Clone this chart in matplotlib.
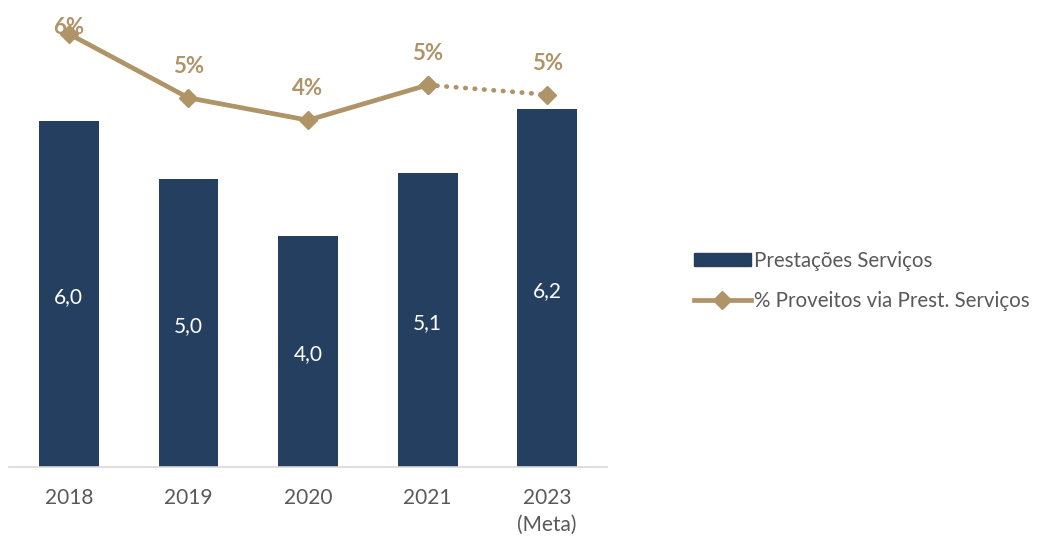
import matplotlib
matplotlib.use("Agg")
import matplotlib.pyplot as plt
from matplotlib.lines import Line2D
from matplotlib.patches import Patch

categories = ["2018", "2019", "2020", "2021", "2023\n(Meta)"]
servicos = [6.0, 5.0, 4.0, 5.1, 6.2]
bar_labels = ["6,0", "5,0", "4,0", "5,1", "6,2"]
pct = [5.8, 4.8, 4.45, 5.0, 4.85]
pct_labels = ["6%", "5%", "4%", "5%", "5%"]

BAR = "#253F61"
GOLD = "#AF9468"
GREY = "#595959"

plt.rcParams['font.family'] = ['Lato', 'DejaVu Sans']

fig = plt.figure(figsize=(10.47, 5.37), dpi=100)
W, H = 1047, 537
ax = fig.add_axes([9 / W, (H - 467) / H, 598 / W, 457 / H])
x = list(range(len(categories)))
ax.bar(x, servicos, width=0.5, color=BAR, zorder=2)
ax.set_xlim(-0.5, len(categories) - 0.5)
ax.set_ylim(0, 457 / 57.7)
for xi, v, lab in zip(x, servicos, bar_labels):
    ax.text(xi, v / 2 - 0.05, lab, ha="center", va="center", color="white", fontsize=15)

for s in ["top", "right", "left"]:
    ax.spines[s].set_visible(False)
ax.spines["bottom"].set_color("#D9D9D9")
ax.spines["bottom"].set_linewidth(1.2)
ax.set_yticks([])
ax.set_xticks(x)
ax.set_xticklabels(categories, fontsize=15, color=GREY, linespacing=1.45)
ax.tick_params(axis="x", length=0, pad=15)

ax2 = ax.twinx()
ax2.set_ylim((405 - 467) / 64, (405 - 10) / 64)
ax2.axis("off")
ax2.plot(x[:4], pct[:4], color=GOLD, lw=3.4, marker="D", ms=9.5, zorder=3,
         solid_joinstyle="miter")
ax2.plot(x[3:], pct[3:], color=GOLD, lw=3.4, linestyle=(0, (0.1, 1.9)),
         dash_capstyle="round", marker="D", ms=9.5, zorder=3)
offsets = [-3, 15, 15, 15, 15]
for xi, v, lab, off in zip(x, pct, pct_labels, offsets):
    ax2.annotate(lab, (xi, v), xytext=(0, off), textcoords="offset points",
                 ha="center", va="bottom", color=GOLD, fontsize=16, fontweight="bold",
                 annotation_clip=False)

handles = [Patch(facecolor=BAR, edgecolor=BAR),
           Line2D([0], [0], color=GOLD, lw=3.4, marker="D", ms=9.5)]
labels = ["Prestações Serviços", "% Proveitos via Prest. Serviços"]
leg = fig.legend(handles, labels, loc="center left", bbox_to_anchor=(675 / W, 1 - 281 / H),
                 frameon=False, fontsize=14.8, labelcolor=GREY, handlelength=2.8,
                 handleheight=0.6, handletextpad=0.15, labelspacing=1.0)

fig.savefig("out.png", dpi=100)
